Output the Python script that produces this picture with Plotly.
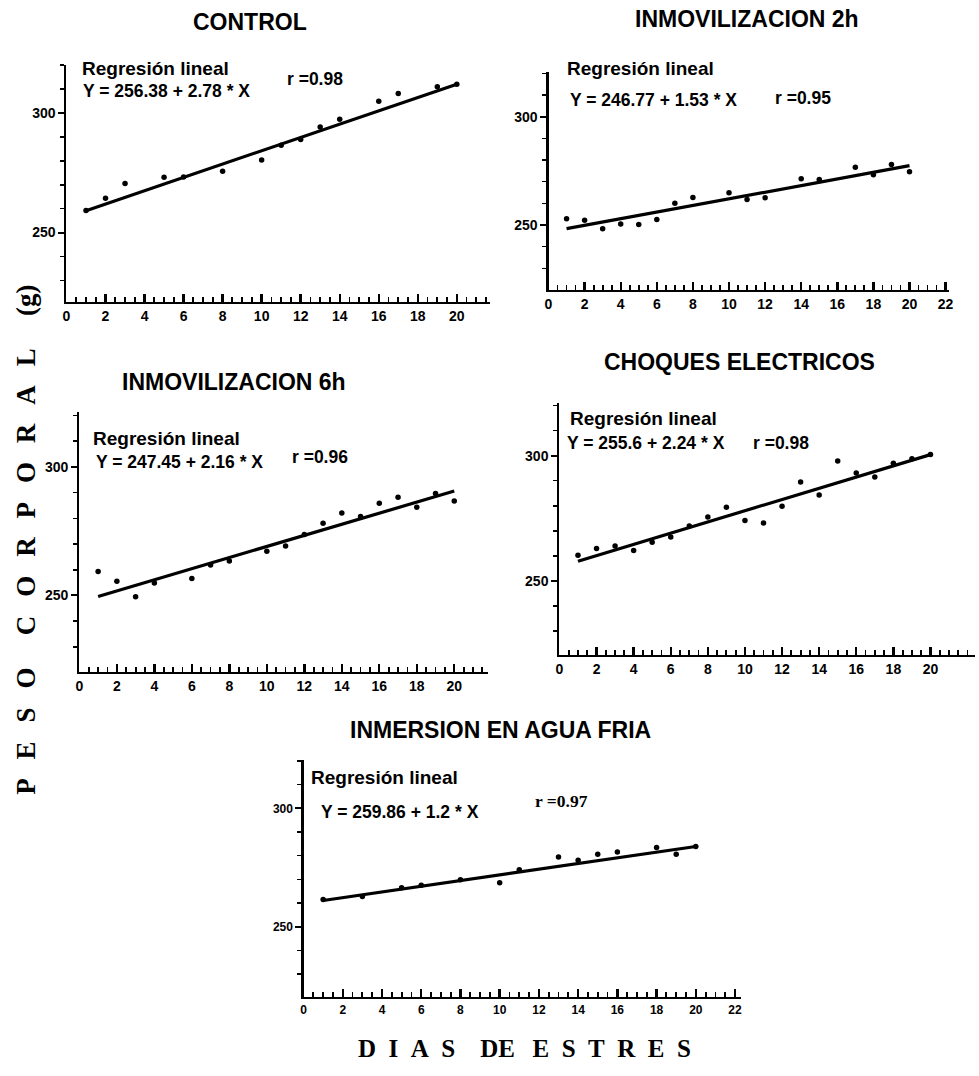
import plotly.graph_objects as go

W, H = 979, 1076

# ---------------- data ----------------
dias_control = [1, 2, 3, 5, 6, 8, 10, 11, 12, 13, 14, 16, 17, 19, 20]
peso_control = [259.2, 264.3, 270.5, 273.1, 273.2, 275.6, 280.3, 286.5, 288.9, 294.1,
                297.3, 304.9, 308.1, 310.9, 312.0]

dias_inm2 = [1, 2, 3, 4, 5, 6, 7, 8, 10, 11, 12, 14, 15, 17, 18, 19, 20]
peso_inm2 = [252.9, 252.2, 248.3, 250.5, 250.2, 252.5, 260.0, 262.7, 264.9, 261.8,
             262.6, 271.3, 271.0, 276.6, 273.2, 277.9, 274.6]

dias_inm6 = [1, 2, 3, 4, 6, 7, 8, 10, 11, 12, 13, 14, 15, 16, 17, 18, 19, 20]
peso_inm6 = [259.3, 255.5, 249.5, 254.8, 256.6, 261.8, 263.4, 267.2, 269.2, 273.7,
             278.1, 282.1, 280.7, 285.9, 288.2, 284.3, 289.7, 286.8]

dias_choq = [1, 2, 3, 4, 5, 6, 7, 8, 9, 10, 11, 12, 13, 14, 15, 16, 17, 18, 19, 20]
peso_choq = [260.2, 262.9, 263.9, 262.1, 265.4, 267.5, 271.9, 275.5, 279.4, 274.1,
             273.1, 279.8, 289.5, 284.3, 297.8, 293.1, 291.5, 296.9, 298.7, 300.4]

dias_agua = [1, 3, 5, 6, 8, 10, 11, 13, 14, 15, 16, 18, 19, 20]
peso_agua = [261.5, 262.7, 266.4, 267.5, 269.8, 268.6, 274.0, 279.4, 278.1, 280.6,
             281.5, 283.4, 280.6, 283.9]

titulos = ["CONTROL", "INMOVILIZACION 2h", "INMOVILIZACION 6h",
           "CHOQUES ELECTRICOS", "INMERSION EN AGUA FRIA"]
intercepto = [256.38, 246.77, 247.45, 255.6, 259.86]
pendiente = [2.78, 1.53, 2.16, 2.24, 1.2]
r_valores = ["0.98", "0.95", "0.96", "0.98", "0.97"]

x_ticks_20 = [0, 2, 4, 6, 8, 10, 12, 14, 16, 18, 20]
x_ticks_22 = [0, 2, 4, 6, 8, 10, 12, 14, 16, 18, 20, 22]
y_ticks = [250, 300]

series = [(dias_control, peso_control), (dias_inm2, peso_inm2), (dias_inm6, peso_inm6),
          (dias_choq, peso_choq), (dias_agua, peso_agua)]
x_ticks = [x_ticks_20, x_ticks_22, x_ticks_20, x_ticks_20, x_ticks_22]

# ---------------- layout (pixel geometry) ----------------
# plot box: left, right, top, bottom (px)
boxes = [(63, 490, 65, 302), (549, 953, 72, 290), (76, 488, 412, 672),
         (560, 979, 403, 655), (302, 743, 760, 997)]
x_ranges = [[0, 21.7], [0, 22.2], [0, 21.8], [0, 22.4], [0, 22.3]]
y_ranges = [[221, 320], [220, 320.6], [220.2, 321.4], [220.4, 321], [220.3, 320.4]]
title_pos = [(248, 22), (749, 19), (232, 382), (742, 362), (501, 730)]
reg_pos = [(77, 69), (566, 69), (88, 438), (569, 418), (308, 777)]
eq_pos = [(78, 91), (569, 100), (91, 462), (566, 443), (318, 812)]
r_pos = [(283, 79), (775, 98), (288, 457), (753, 443), (533, 801)]
tick_sizes = [14, 14, 14, 14, 12]

SANS = "Liberation Sans, Arial, sans-serif"
SERIF = "Liberation Serif, Times New Roman, serif"


def px(x):
    return x / W


def py(y):
    return 1 - y / H


def frange(a, b, step):
    out, v = [], a
    while v <= b + 1e-9:
        out.append(round(v, 3))
        v += step
    return out


fig = go.Figure()
annotations = []
for i, ((dias, peso), (l, r, t, b)) in enumerate(zip(series, boxes)):
    n = i + 1
    xa, ya = f"x{n}", f"y{n}"
    fig.add_trace(go.Scatter(x=dias, y=peso, mode="markers",
                             marker=dict(color="black", size=5.5),
                             xaxis=xa, yaxis=ya, showlegend=False, hoverinfo="skip"))
    xl = [dias[0], dias[-1]]
    yl = [intercepto[i] + pendiente[i] * v for v in xl]
    fig.add_trace(go.Scatter(x=xl, y=yl, mode="lines",
                             line=dict(color="black", width=3.2),
                             xaxis=xa, yaxis=ya, showlegend=False, hoverinfo="skip"))
    tf = dict(family=SANS, size=tick_sizes[i], color="black", weight="bold")
    fig.layout[f"xaxis{n}"] = dict(
        domain=[px(l), px(r)], range=x_ranges[i], anchor=ya,
        showline=True, linecolor="black", linewidth=2.2,
        showgrid=False, zeroline=False,
        tickmode="array", tickvals=x_ticks[i], ticks="inside",
        ticklen=8, tickwidth=2.4, tickcolor="black", tickfont=tf,
        minor=dict(tickmode="array", tickvals=frange(0, x_ranges[i][1], 0.5),
                   ticks="inside", ticklen=5, tickwidth=1.8, tickcolor="black",
                   showgrid=False))
    fig.layout[f"yaxis{n}"] = dict(
        domain=[py(b), py(t)], range=y_ranges[i], anchor=xa,
        showline=True, linecolor="black", linewidth=2.2,
        showgrid=False, zeroline=False,
        tickmode="array", tickvals=y_ticks, ticks="outside",
        ticklen=6, tickwidth=2, tickcolor="black", tickfont=tf,
        minor=dict(tickmode="array", tickvals=frange(230, 320, 10),
                   ticks="outside", ticklen=4, tickwidth=1.6, tickcolor="black",
                   showgrid=False))

    annotations.append(dict(x=px(title_pos[i][0]), y=py(title_pos[i][1]),
                            xref="paper", yref="paper", text=titulos[i],
                            showarrow=False, xanchor="center", yanchor="middle",
                            font=dict(family=SANS, size=23, color="black", weight="bold")))
    annotations.append(dict(x=px(reg_pos[i][0]), y=py(reg_pos[i][1]),
                            xref="paper", yref="paper", text="Regresión lineal",
                            showarrow=False, xanchor="left", yanchor="middle",
                            font=dict(family=SANS, size=19, color="black", weight="bold")))
    annotations.append(dict(x=px(eq_pos[i][0]), y=py(eq_pos[i][1]),
                            xref="paper", yref="paper",
                            text=f"Y = {intercepto[i]:g} + {pendiente[i]:g} * X",
                            showarrow=False, xanchor="left", yanchor="middle",
                            font=dict(family=SANS, size=17.5, color="black", weight="bold")))
    annotations.append(dict(x=px(r_pos[i][0]), y=py(r_pos[i][1]),
                            xref="paper", yref="paper", text="r =" + r_valores[i],
                            showarrow=False, xanchor="left", yanchor="middle",
                            font=dict(family=SERIF if i == 4 else SANS, size=17.5,
                                      color="black", weight="bold")))

EN, EM, THIN = "\u2002", "\u2003", "\u2009"
y_title = (EN + THIN).join("PESO") + EM + THIN + (EN + THIN).join("CORPORAL") + EM + THIN + "(g)"
x_title = EN.join("DIAS") + EM + "DE" + EN + THIN + EN.join("ESTRES")
annotations.append(dict(x=px(22), y=py(540), xref="paper", yref="paper",
                        text=y_title, textangle=-90, showarrow=False,
                        xanchor="center", yanchor="middle",
                        font=dict(family=SERIF, size=27, color="black", weight="bold")))
annotations.append(dict(x=px(525), y=py(1048), xref="paper", yref="paper",
                        text=x_title, showarrow=False,
                        xanchor="center", yanchor="middle",
                        font=dict(family=SERIF, size=25, color="black", weight="bold")))

fig.update_layout(width=W, height=H, margin=dict(l=0, r=0, t=0, b=0),
                  paper_bgcolor="white", plot_bgcolor="white",
                  annotations=annotations, showlegend=False, hovermode=False)

fig.write_html("out.html",
               config={"displayModeBar": False, "staticPlot": True},
               post_script="document.body.style.margin='0px';"
                           "document.body.style.overflow='hidden';")
